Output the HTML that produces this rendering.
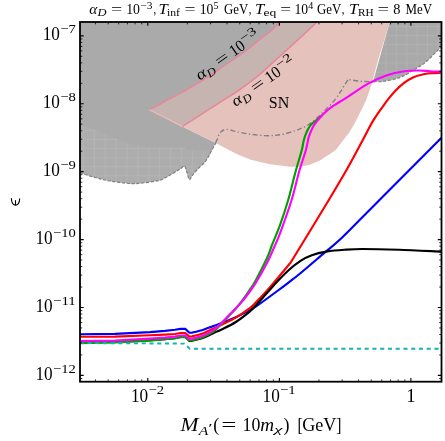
<!DOCTYPE html>
<html><head><meta charset="utf-8"><style>html,body{margin:0;padding:0;background:#fff;}body{width:445px;height:441px;overflow:hidden;position:relative;font-family:"Liberation Serif",serif;}</style></head><body>
<svg width="445" height="441" viewBox="0 0 445 441" style="position:absolute;left:0;top:0;will-change:transform">
<rect width="445" height="441" fill="#fff"/>
<defs><pattern id="g1" x="82.9" y="130.1" width="10.9" height="9.05" patternUnits="userSpaceOnUse"><rect width="10.9" height="9.05" fill="#adadad"/><path d="M0,0.4 H10.9 M0.4,0 V9.05" stroke="#b5b5b5" stroke-width="0.8"/></pattern><pattern id="g2" x="395.9" y="26.1" width="10.4" height="9.1" patternUnits="userSpaceOnUse"><rect width="10.4" height="9.1" fill="#a9a9a9"/><path d="M0,0.4 H10.4 M0.4,0 V9.1" stroke="#b3b3b3" stroke-width="0.8"/></pattern><clipPath id="cp"><rect x="80.0" y="22.0" width="361.5" height="359.7"/></clipPath></defs>
<g clip-path="url(#cp)">
<path d="M80.0,22.0 L280.4,22.0 L280.4,22.0 L272.2,29.6 L265.0,35.4 L258.6,40.4 L251.3,46.3 L245.0,51.3 L235.7,57.8 L224.9,65.2 L213.0,73.5 L204.5,79.3 L195.0,84.9 L180.0,93.4 L167.7,99.9 L158.0,105.2 L149.3,109.8 L182.3,126.4 L200.0,135.2 L216.3,143.3 L215.8,142.9 L211.7,150.4 L208.5,156.5 L204.9,162.0 L200.0,166.8 L195.4,171.5 L192.0,176.0 L189.3,179.7 L187.0,172.5 L184.5,166.0 L180.4,168.8 L173.6,172.9 L166.8,177.0 L160.0,180.2 L151.3,181.8 L140.0,183.2 L129.4,183.5 L110.0,181.0 L95.0,177.5 L80.0,172.8Z" fill="#aaaaaa"/>
<path d="M80.0,125.4 L88.0,127.0 L95.0,130.0 L105.9,134.5 L116.7,139.0 L127.6,143.6 L140.0,146.4 L160.0,147.4 L185.2,147.4 L185.2,150.4 L211.7,150.4 L208.5,156.5 L204.9,162.0 L200.0,166.8 L195.4,171.5 L192.0,176.0 L189.3,179.7 L187.0,172.5 L184.5,166.0 L180.4,168.8 L173.6,172.9 L166.8,177.0 L160.0,180.2 L151.3,181.8 L140.0,183.2 L129.4,183.5 L110.0,181.0 L95.0,177.5 L80.0,172.8Z" fill="url(#g1)"/>
<path d="M389.7,22.0 L441.5,22.0 L441.5,46.7 L435.7,52.4 L428.0,60.0 L422.6,64.5 L413.5,70.0 L404.4,75.4 L395.4,79.0 L382.7,81.4 L373.6,81.8 L373.3,80.8Z" fill="url(#g2)"/>
<path d="M149.3,109.8 L158.0,105.2 L167.7,99.9 L180.0,93.4 L195.0,84.9 L204.5,79.3 L213.0,73.5 L224.9,65.2 L235.7,57.8 L245.0,51.3 L251.3,46.3 L258.6,40.4 L265.0,35.4 L272.2,29.6 L280.4,22.0 L317.1,22.0 L389.7,22.0 L384.0,41.0 L378.1,60.0 L371.8,83.6 L366.3,99.9 L359.1,114.4 L355.0,122.7 L349.4,132.2 L345.3,137.6 L335.8,150.0 L333.6,151.6 L320.0,160.6 L310.0,164.8 L300.0,166.8 L290.0,166.7 L280.0,165.6 L270.0,164.2 L264.4,163.1 L250.8,159.7 L237.2,154.3 L223.6,147.2 L216.3,143.3 L200.0,135.2 L182.3,126.4 L149.3,109.8Z" fill="#e6c2bd"/>
<path d="M149.3,109.8 L158.0,105.2 L167.7,99.9 L180.0,93.4 L195.0,84.9 L204.5,79.3 L213.0,73.5 L224.9,65.2 L235.7,57.8 L245.0,51.3 L251.3,46.3 L258.6,40.4 L265.0,35.4 L272.2,29.6 L280.4,22.0 L316.9,22.0 L316.9,22.0 L311.0,27.6 L305.0,33.2 L299.4,38.5 L285.8,50.8 L272.2,63.2 L262.7,72.0 L254.5,78.6 L240.0,89.5 L225.0,99.2 L211.3,107.9 L193.8,119.2 L182.3,126.4Z" fill="#c6b4b0"/>
<path d="M149.3,109.8 C150.8,109.0 154.9,106.8 158.0,105.2 C161.1,103.6 164.0,101.9 167.7,99.9 C171.4,97.9 175.4,95.9 180.0,93.4 C184.6,90.9 190.9,87.2 195.0,84.9 C199.1,82.6 201.5,81.2 204.5,79.3 C207.5,77.4 209.6,75.8 213.0,73.5 C216.4,71.2 221.1,67.8 224.9,65.2 C228.7,62.6 232.3,60.1 235.7,57.8 C239.0,55.5 242.4,53.2 245.0,51.3 C247.6,49.4 249.0,48.1 251.3,46.3 C253.6,44.5 256.3,42.2 258.6,40.4 C260.9,38.6 262.7,37.2 265.0,35.4 C267.3,33.6 269.6,31.8 272.2,29.6 C274.8,27.4 279.0,23.3 280.4,22.0" fill="none" stroke="#e6879b" stroke-width="1.6"/>
<path d="M182.3,126.4 C184.2,125.2 189.0,122.3 193.8,119.2 C198.6,116.1 206.1,111.2 211.3,107.9 C216.5,104.6 220.2,102.3 225.0,99.2 C229.8,96.1 235.1,92.9 240.0,89.5 C244.9,86.1 250.7,81.5 254.5,78.6 C258.3,75.7 259.8,74.6 262.7,72.0 C265.6,69.4 268.3,66.7 272.2,63.2 C276.1,59.7 281.3,54.9 285.8,50.8 C290.3,46.7 296.2,41.4 299.4,38.5 C302.6,35.6 303.1,35.0 305.0,33.2 C306.9,31.4 309.0,29.5 311.0,27.6 C313.0,25.7 315.9,22.9 316.9,22.0" fill="none" stroke="#e6879b" stroke-width="1.6"/>
<path d="M149.3,109.8 L182.3,126.4" fill="none" stroke="#f0b6b8" stroke-width="1.2"/>
<path d="M80.0,172.8 C82.5,173.6 90.0,176.1 95.0,177.5 C100.0,178.9 104.3,180.0 110.0,181.0 C115.7,182.0 124.4,183.1 129.4,183.5 C134.4,183.9 136.3,183.5 140.0,183.2 C143.7,182.9 148.0,182.3 151.3,181.8 C154.6,181.3 157.4,181.0 160.0,180.2 C162.6,179.4 164.5,178.2 166.8,177.0 C169.1,175.8 171.3,174.3 173.6,172.9 C175.9,171.5 178.6,170.0 180.4,168.8 C182.2,167.7 183.4,165.4 184.5,166.0 C185.6,166.6 186.2,170.2 187.0,172.5 C187.8,174.8 188.5,179.1 189.3,179.7 C190.1,180.3 191.0,177.4 192.0,176.0 C193.0,174.6 194.1,173.0 195.4,171.5 C196.7,170.0 198.4,168.4 200.0,166.8 C201.6,165.2 203.5,163.7 204.9,162.0 C206.3,160.3 207.4,158.4 208.5,156.5 C209.6,154.6 210.5,152.7 211.7,150.4 C212.9,148.1 215.1,144.2 215.8,142.9" fill="none" stroke="#808080" stroke-width="1.2" stroke-dasharray="3.2,1.6"/>
<path d="M215.6,142.9 C215.9,142.2 216.7,140.3 217.5,138.6 C218.3,136.9 218.7,134.0 220.2,132.5 C221.7,131.0 223.5,129.5 226.3,129.4 C229.1,129.3 233.1,131.0 237.2,131.8 C241.3,132.6 246.3,133.7 250.8,134.3 C255.3,134.9 260.4,135.4 264.4,135.6 C268.4,135.8 271.7,135.7 275.0,135.4 C278.3,135.1 280.7,134.8 284.0,134.0 C287.3,133.2 292.0,131.8 295.0,130.8 C298.0,129.8 299.5,129.1 301.8,128.1 C304.1,127.1 306.3,126.2 308.6,124.7 C310.9,123.2 313.1,121.2 315.4,119.3 C317.7,117.4 319.9,115.3 322.2,113.1 C324.5,110.9 326.7,108.7 329.0,106.3 C331.3,103.9 334.0,101.1 335.8,98.8 C337.6,96.5 338.5,94.8 339.9,92.7 C341.3,90.6 342.5,88.3 344.0,86.0 C345.5,83.7 347.8,79.8 348.9,78.8 C350.0,77.8 348.2,79.4 350.5,79.8 C352.8,80.2 358.6,81.1 362.7,81.4 C366.8,81.7 372.9,81.7 375.0,81.8" fill="none" stroke="#828282" stroke-width="1.4" stroke-dasharray="5,2.5,1.3,2.5"/>
<path d="M373.6,81.8 C375.1,81.7 379.1,81.9 382.7,81.4 C386.3,80.9 391.8,80.0 395.4,79.0 C399.0,78.0 401.4,76.9 404.4,75.4 C407.4,73.9 410.5,71.8 413.5,70.0 C416.5,68.2 420.2,66.2 422.6,64.5 C425.0,62.8 425.8,62.0 428.0,60.0 C430.2,58.0 433.4,54.6 435.7,52.4 C437.9,50.2 440.5,47.7 441.5,46.7" fill="none" stroke="#808080" stroke-width="1.2" stroke-dasharray="3.2,1.6"/>
<path d="M80.0,334.3 L115.0,333.9 L150.0,332.1 L165.0,330.9 L175.0,329.7 L180.4,328.9 L185.3,328.9 L189.4,332.7 L192.1,332.6 L192.1,332.6 C193.8,332.2 199.2,331.0 202.0,330.2 C204.8,329.4 206.4,328.6 208.6,327.8 C210.8,327.0 212.7,326.5 215.0,325.6 C217.3,324.8 218.7,324.1 222.2,322.7 C225.7,321.3 231.3,319.2 235.8,317.2 C240.3,315.1 246.2,312.1 249.4,310.4 C252.6,308.7 250.2,310.5 255.0,307.2 C259.8,303.9 272.2,294.8 278.0,290.5 C283.8,286.2 286.2,284.3 290.0,281.4 C293.8,278.5 294.9,277.8 300.7,273.0 C306.5,268.2 318.3,258.0 324.9,252.4 C331.4,246.8 333.7,245.4 340.0,239.5 C346.3,233.6 352.8,226.8 362.6,217.0 C372.4,207.2 385.8,193.7 398.9,180.5 C412.0,167.3 434.4,144.9 441.5,137.8" fill="none" stroke="#0000ff" stroke-width="2.15"/>
<path d="M80.0,336.7 L115.0,336.6 L150.0,335.2 L165.0,334.6 L175.0,334.0 L180.4,333.0 L185.3,333.0 L189.4,336.6 L192.1,336.4 L192.1,336.4 C193.8,336.0 199.2,334.7 202.0,333.8 C204.8,332.9 206.4,331.8 208.6,330.8 C210.8,329.8 212.7,328.9 215.0,327.8 C217.3,326.8 218.7,326.2 222.2,324.5 C225.7,322.8 231.3,320.4 235.8,317.7 C240.3,315.0 246.2,310.8 249.4,308.4 C252.6,306.0 252.1,306.1 255.0,303.2 C257.9,300.3 262.9,295.2 266.7,291.0 C270.5,286.8 274.2,282.3 278.0,277.8 C281.8,273.3 287.0,267.0 289.4,264.0 C291.8,261.0 288.7,265.7 292.2,260.0 C295.7,254.3 304.5,240.0 310.6,230.0 C316.7,220.0 322.8,210.0 328.8,200.0 C334.8,190.0 340.8,180.0 346.5,170.0 C352.2,160.0 358.3,148.3 362.8,140.0 C367.3,131.7 369.7,126.3 373.6,119.9 C377.5,113.5 382.7,106.6 386.3,101.7 C389.9,96.8 392.4,94.0 395.4,90.8 C398.4,87.6 401.4,85.0 404.4,82.7 C407.4,80.4 410.5,78.6 413.5,77.2 C416.5,75.8 419.9,75.2 422.6,74.5 C425.4,73.8 426.9,73.5 430.0,73.2 C433.1,72.9 439.6,72.9 441.5,72.8" fill="none" stroke="#ff0000" stroke-width="2.15"/>
<path d="M80.0,342.4 L115.0,342.0 L150.0,340.2 L165.0,339.1 L175.0,338.2 L180.4,337.0 L185.3,337.0 L189.4,341.0 L192.0,340.8 L192.0,340.8 C193.7,340.4 199.2,339.1 202.0,338.2 C204.8,337.3 206.4,336.6 208.6,335.6 C210.8,334.6 212.7,333.4 215.0,332.3 C217.3,331.2 218.7,330.9 222.2,329.2 C225.7,327.5 231.3,324.9 235.8,322.0 C240.3,319.1 246.2,314.4 249.4,311.8 C252.6,309.2 252.1,309.3 255.0,306.2 C257.9,303.1 262.9,297.5 266.7,293.3 C270.5,289.1 274.2,284.8 278.0,280.8 C281.8,276.8 285.6,272.9 289.4,269.5 C293.2,266.1 297.2,263.0 300.9,260.6 C304.6,258.2 307.6,256.7 311.8,255.2 C316.0,253.7 320.9,252.5 326.3,251.6 C331.7,250.7 338.3,250.1 344.4,249.7 C350.4,249.3 353.5,249.0 362.6,249.0 C371.7,249.0 385.8,249.3 398.9,249.7 C412.0,250.1 434.4,251.3 441.5,251.6" fill="none" stroke="#000" stroke-width="2.15"/>
<path d="M80.0,343.2 L115.0,342.4 L150.0,340.6 L165.0,339.3 L175.0,338.2 L180.4,337.1 L185.3,337.1 L189.4,340.5 L192.0,340.3 L192.0,340.3 C193.7,339.8 199.2,338.5 202.0,337.5 C204.8,336.5 206.4,335.6 208.6,334.4 C210.8,333.2 212.7,332.3 215.0,330.4 C217.3,328.5 219.9,325.4 222.2,323.0 C224.5,320.6 226.7,318.2 229.0,315.8 C231.3,313.4 233.5,311.1 235.8,308.5 C238.1,305.9 240.3,303.0 242.6,300.0 C244.9,297.0 247.3,293.6 249.4,290.4 C251.5,287.2 252.5,286.3 255.4,281.0 C258.3,275.7 263.9,264.8 266.7,258.8 C269.5,252.8 269.8,250.6 272.0,245.0 C274.2,239.4 277.3,232.7 280.0,225.2 C282.7,217.7 285.6,208.9 288.2,200.0 C290.8,191.1 293.2,180.3 295.5,172.0 C297.8,163.7 300.4,155.3 301.8,150.0 C303.2,144.7 303.0,143.3 303.8,140.3 C304.6,137.3 305.6,134.6 306.6,132.2 C307.6,129.8 308.8,127.7 310.0,126.0 C311.2,124.3 312.8,123.1 314.0,122.0 C315.2,120.9 316.0,120.4 317.4,119.3 C318.8,118.2 321.4,115.9 322.2,115.2" fill="none" stroke="#00a000" stroke-width="2.15"/>
<path d="M80.0,341.0 L115.0,340.6 L150.0,338.6 L165.0,337.6 L175.0,336.6 L180.4,335.5 L185.3,335.5 L189.4,338.9 L192.0,338.7 L192.0,338.7 C193.7,338.2 199.2,337.0 202.0,336.0 C204.8,335.0 206.4,334.0 208.6,332.8 C210.8,331.6 212.7,330.8 215.0,329.0 C217.3,327.2 219.9,324.5 222.2,322.2 C224.5,319.9 226.7,317.5 229.0,315.2 C231.3,312.9 233.5,310.8 235.8,308.4 C238.1,306.0 240.3,303.6 242.6,300.9 C244.9,298.2 247.3,294.9 249.4,292.0 C251.5,289.1 252.5,288.2 255.4,283.5 C258.3,278.8 263.6,269.4 266.7,263.5 C269.8,257.6 271.6,253.0 273.8,248.0 C276.0,243.0 277.0,241.3 280.0,233.3 C283.0,225.3 288.4,210.2 291.6,200.0 C294.8,189.8 296.6,180.3 299.0,172.0 C301.4,163.7 304.3,155.7 305.9,150.0 C307.5,144.3 307.5,141.4 308.6,137.6 C309.7,133.8 311.3,130.1 312.7,127.4 C314.1,124.7 315.2,123.3 316.8,121.3 C318.4,119.3 320.2,117.2 322.2,115.2 C324.2,113.2 326.7,110.8 329.0,109.0 C331.3,107.2 333.5,105.8 335.8,104.3 C338.1,102.8 340.2,101.7 342.6,100.2 C345.0,98.7 345.8,98.2 350.0,95.4 C354.2,92.6 362.1,86.9 368.1,83.6 C374.2,80.3 380.2,77.5 386.3,75.4 C392.4,73.3 399.0,72.0 404.4,71.2 C409.8,70.4 414.6,70.5 418.9,70.5 C423.2,70.5 426.2,71.0 430.0,71.2 C433.8,71.4 439.6,71.5 441.5,71.6" fill="none" stroke="#ff00ff" stroke-width="2.15"/>
<path d="M80,343.1 L184.4,343.6 L189.8,348.8 L441.5,348.8" fill="none" stroke="#12b4b8" stroke-width="1.9" stroke-dasharray="4.1,3.66" stroke-dashoffset="0.4"/>
</g>
<path d="M95.45,381.7 v-2.3 M95.45,22.0 v2.3" stroke="#000" stroke-width="0.8"/>
<path d="M108.20,381.7 v-2.3 M108.20,22.0 v2.3" stroke="#000" stroke-width="0.8"/>
<path d="M118.62,381.7 v-2.3 M118.62,22.0 v2.3" stroke="#000" stroke-width="0.8"/>
<path d="M127.42,381.7 v-2.3 M127.42,22.0 v2.3" stroke="#000" stroke-width="0.8"/>
<path d="M135.05,381.7 v-2.3 M135.05,22.0 v2.3" stroke="#000" stroke-width="0.8"/>
<path d="M141.78,381.7 v-2.3 M141.78,22.0 v2.3" stroke="#000" stroke-width="0.8"/>
<path d="M147.80,381.7 v-3.7 M147.80,22.0 v3.7" stroke="#000" stroke-width="1.1"/>
<path d="M187.40,381.7 v-2.3 M187.40,22.0 v2.3" stroke="#000" stroke-width="0.8"/>
<path d="M210.57,381.7 v-2.3 M210.57,22.0 v2.3" stroke="#000" stroke-width="0.8"/>
<path d="M227.00,381.7 v-2.3 M227.00,22.0 v2.3" stroke="#000" stroke-width="0.8"/>
<path d="M239.75,381.7 v-2.3 M239.75,22.0 v2.3" stroke="#000" stroke-width="0.8"/>
<path d="M250.17,381.7 v-2.3 M250.17,22.0 v2.3" stroke="#000" stroke-width="0.8"/>
<path d="M258.97,381.7 v-2.3 M258.97,22.0 v2.3" stroke="#000" stroke-width="0.8"/>
<path d="M266.60,381.7 v-2.3 M266.60,22.0 v2.3" stroke="#000" stroke-width="0.8"/>
<path d="M273.33,381.7 v-2.3 M273.33,22.0 v2.3" stroke="#000" stroke-width="0.8"/>
<path d="M279.35,381.7 v-3.7 M279.35,22.0 v3.7" stroke="#000" stroke-width="1.1"/>
<path d="M318.95,381.7 v-2.3 M318.95,22.0 v2.3" stroke="#000" stroke-width="0.8"/>
<path d="M342.12,381.7 v-2.3 M342.12,22.0 v2.3" stroke="#000" stroke-width="0.8"/>
<path d="M358.55,381.7 v-2.3 M358.55,22.0 v2.3" stroke="#000" stroke-width="0.8"/>
<path d="M371.30,381.7 v-2.3 M371.30,22.0 v2.3" stroke="#000" stroke-width="0.8"/>
<path d="M381.72,381.7 v-2.3 M381.72,22.0 v2.3" stroke="#000" stroke-width="0.8"/>
<path d="M390.52,381.7 v-2.3 M390.52,22.0 v2.3" stroke="#000" stroke-width="0.8"/>
<path d="M398.15,381.7 v-2.3 M398.15,22.0 v2.3" stroke="#000" stroke-width="0.8"/>
<path d="M404.88,381.7 v-2.3 M404.88,22.0 v2.3" stroke="#000" stroke-width="0.8"/>
<path d="M410.90,381.7 v-3.7 M410.90,22.0 v3.7" stroke="#000" stroke-width="1.1"/>
<path d="M80.0,378.51 h2.3 M441.5,378.51 h-2.3" stroke="#000" stroke-width="0.8"/>
<path d="M80.0,375.40 h3.7 M441.5,375.40 h-3.7" stroke="#000" stroke-width="1.1"/>
<path d="M80.0,354.96 h2.3 M441.5,354.96 h-2.3" stroke="#000" stroke-width="0.8"/>
<path d="M80.0,343.00 h2.3 M441.5,343.00 h-2.3" stroke="#000" stroke-width="0.8"/>
<path d="M80.0,334.51 h2.3 M441.5,334.51 h-2.3" stroke="#000" stroke-width="0.8"/>
<path d="M80.0,327.93 h2.3 M441.5,327.93 h-2.3" stroke="#000" stroke-width="0.8"/>
<path d="M80.0,322.56 h2.3 M441.5,322.56 h-2.3" stroke="#000" stroke-width="0.8"/>
<path d="M80.0,318.01 h2.3 M441.5,318.01 h-2.3" stroke="#000" stroke-width="0.8"/>
<path d="M80.0,314.07 h2.3 M441.5,314.07 h-2.3" stroke="#000" stroke-width="0.8"/>
<path d="M80.0,310.60 h2.3 M441.5,310.60 h-2.3" stroke="#000" stroke-width="0.8"/>
<path d="M80.0,307.49 h3.7 M441.5,307.49 h-3.7" stroke="#000" stroke-width="1.1"/>
<path d="M80.0,287.05 h2.3 M441.5,287.05 h-2.3" stroke="#000" stroke-width="0.8"/>
<path d="M80.0,275.09 h2.3 M441.5,275.09 h-2.3" stroke="#000" stroke-width="0.8"/>
<path d="M80.0,266.60 h2.3 M441.5,266.60 h-2.3" stroke="#000" stroke-width="0.8"/>
<path d="M80.0,260.02 h2.3 M441.5,260.02 h-2.3" stroke="#000" stroke-width="0.8"/>
<path d="M80.0,254.65 h2.3 M441.5,254.65 h-2.3" stroke="#000" stroke-width="0.8"/>
<path d="M80.0,250.10 h2.3 M441.5,250.10 h-2.3" stroke="#000" stroke-width="0.8"/>
<path d="M80.0,246.16 h2.3 M441.5,246.16 h-2.3" stroke="#000" stroke-width="0.8"/>
<path d="M80.0,242.69 h2.3 M441.5,242.69 h-2.3" stroke="#000" stroke-width="0.8"/>
<path d="M80.0,239.58 h3.7 M441.5,239.58 h-3.7" stroke="#000" stroke-width="1.1"/>
<path d="M80.0,219.14 h2.3 M441.5,219.14 h-2.3" stroke="#000" stroke-width="0.8"/>
<path d="M80.0,207.18 h2.3 M441.5,207.18 h-2.3" stroke="#000" stroke-width="0.8"/>
<path d="M80.0,198.69 h2.3 M441.5,198.69 h-2.3" stroke="#000" stroke-width="0.8"/>
<path d="M80.0,192.11 h2.3 M441.5,192.11 h-2.3" stroke="#000" stroke-width="0.8"/>
<path d="M80.0,186.74 h2.3 M441.5,186.74 h-2.3" stroke="#000" stroke-width="0.8"/>
<path d="M80.0,182.19 h2.3 M441.5,182.19 h-2.3" stroke="#000" stroke-width="0.8"/>
<path d="M80.0,178.25 h2.3 M441.5,178.25 h-2.3" stroke="#000" stroke-width="0.8"/>
<path d="M80.0,174.78 h2.3 M441.5,174.78 h-2.3" stroke="#000" stroke-width="0.8"/>
<path d="M80.0,171.67 h3.7 M441.5,171.67 h-3.7" stroke="#000" stroke-width="1.1"/>
<path d="M80.0,151.23 h2.3 M441.5,151.23 h-2.3" stroke="#000" stroke-width="0.8"/>
<path d="M80.0,139.27 h2.3 M441.5,139.27 h-2.3" stroke="#000" stroke-width="0.8"/>
<path d="M80.0,130.78 h2.3 M441.5,130.78 h-2.3" stroke="#000" stroke-width="0.8"/>
<path d="M80.0,124.20 h2.3 M441.5,124.20 h-2.3" stroke="#000" stroke-width="0.8"/>
<path d="M80.0,118.83 h2.3 M441.5,118.83 h-2.3" stroke="#000" stroke-width="0.8"/>
<path d="M80.0,114.28 h2.3 M441.5,114.28 h-2.3" stroke="#000" stroke-width="0.8"/>
<path d="M80.0,110.34 h2.3 M441.5,110.34 h-2.3" stroke="#000" stroke-width="0.8"/>
<path d="M80.0,106.87 h2.3 M441.5,106.87 h-2.3" stroke="#000" stroke-width="0.8"/>
<path d="M80.0,103.76 h3.7 M441.5,103.76 h-3.7" stroke="#000" stroke-width="1.1"/>
<path d="M80.0,83.32 h2.3 M441.5,83.32 h-2.3" stroke="#000" stroke-width="0.8"/>
<path d="M80.0,71.36 h2.3 M441.5,71.36 h-2.3" stroke="#000" stroke-width="0.8"/>
<path d="M80.0,62.87 h2.3 M441.5,62.87 h-2.3" stroke="#000" stroke-width="0.8"/>
<path d="M80.0,56.29 h2.3 M441.5,56.29 h-2.3" stroke="#000" stroke-width="0.8"/>
<path d="M80.0,50.92 h2.3 M441.5,50.92 h-2.3" stroke="#000" stroke-width="0.8"/>
<path d="M80.0,46.37 h2.3 M441.5,46.37 h-2.3" stroke="#000" stroke-width="0.8"/>
<path d="M80.0,42.43 h2.3 M441.5,42.43 h-2.3" stroke="#000" stroke-width="0.8"/>
<path d="M80.0,38.96 h2.3 M441.5,38.96 h-2.3" stroke="#000" stroke-width="0.8"/>
<path d="M80.0,35.85 h3.7 M441.5,35.85 h-3.7" stroke="#000" stroke-width="1.1"/>
<rect x="80.0" y="22.0" width="361.5" height="359.7" fill="none" stroke="#000" stroke-width="1.8"/>
<text x="35.5" y="379.8" font-family="Liberation Serif, serif" font-size="18.8" textLength="17.2" lengthAdjust="spacingAndGlyphs" fill="#000">10</text><text x="53.0" y="372.5" font-family="Liberation Serif, serif" font-size="12.8" textLength="22.8" lengthAdjust="spacingAndGlyphs" fill="#000">−12</text>
<text x="35.5" y="311.9" font-family="Liberation Serif, serif" font-size="18.8" textLength="17.2" lengthAdjust="spacingAndGlyphs" fill="#000">10</text><text x="53.0" y="304.6" font-family="Liberation Serif, serif" font-size="12.8" textLength="22.8" lengthAdjust="spacingAndGlyphs" fill="#000">−11</text>
<text x="35.5" y="244.0" font-family="Liberation Serif, serif" font-size="18.8" textLength="17.2" lengthAdjust="spacingAndGlyphs" fill="#000">10</text><text x="53.0" y="236.7" font-family="Liberation Serif, serif" font-size="12.8" textLength="22.8" lengthAdjust="spacingAndGlyphs" fill="#000">−10</text>
<text x="42.7" y="176.1" font-family="Liberation Serif, serif" font-size="18.8" textLength="17.2" lengthAdjust="spacingAndGlyphs" fill="#000">10</text><text x="60.2" y="168.8" font-family="Liberation Serif, serif" font-size="12.8" textLength="15.6" lengthAdjust="spacingAndGlyphs" fill="#000">−9</text>
<text x="42.7" y="108.2" font-family="Liberation Serif, serif" font-size="18.8" textLength="17.2" lengthAdjust="spacingAndGlyphs" fill="#000">10</text><text x="60.2" y="100.9" font-family="Liberation Serif, serif" font-size="12.8" textLength="15.6" lengthAdjust="spacingAndGlyphs" fill="#000">−8</text>
<text x="42.7" y="40.2" font-family="Liberation Serif, serif" font-size="18.8" textLength="17.2" lengthAdjust="spacingAndGlyphs" fill="#000">10</text><text x="60.2" y="33.0" font-family="Liberation Serif, serif" font-size="12.8" textLength="15.6" lengthAdjust="spacingAndGlyphs" fill="#000">−7</text>
<text x="131.0" y="401.5" font-family="Liberation Serif, serif" font-size="18.8" textLength="17.2" lengthAdjust="spacingAndGlyphs" fill="#000">10</text><text x="148.5" y="394.2" font-family="Liberation Serif, serif" font-size="12.8" textLength="15.6" lengthAdjust="spacingAndGlyphs" fill="#000">−2</text>
<text x="262.6" y="401.5" font-family="Liberation Serif, serif" font-size="18.8" textLength="17.2" lengthAdjust="spacingAndGlyphs" fill="#000">10</text><text x="280.1" y="394.2" font-family="Liberation Serif, serif" font-size="12.8" textLength="15.6" lengthAdjust="spacingAndGlyphs" fill="#000">−1</text>
<text x="410.9" y="401.5" font-family="Liberation Serif, serif" font-size="18.8" text-anchor="middle" fill="#000">1</text>
<text x="89.2" y="13.5" font-family="Liberation Serif, serif" font-size="14.2" font-style="italic" textLength="8.0" lengthAdjust="spacingAndGlyphs" fill="#000">α</text>
<text x="97.6" y="15.7" font-family="Liberation Serif, serif" font-size="10" font-style="italic" textLength="9.0" lengthAdjust="spacingAndGlyphs" fill="#000">D</text>
<text x="111.0" y="13.5" font-family="Liberation Serif, serif" font-size="14.2" textLength="11.2" lengthAdjust="spacingAndGlyphs" fill="#000">=</text>
<text x="126.2" y="13.5" font-family="Liberation Serif, serif" font-size="14.2" textLength="13.8" lengthAdjust="spacingAndGlyphs" fill="#000">10</text>
<text x="140.4" y="8.5" font-family="Liberation Serif, serif" font-size="10" textLength="12.2" lengthAdjust="spacingAndGlyphs" fill="#000">−3</text>
<text x="153.6" y="13.5" font-family="Liberation Serif, serif" font-size="14.2" textLength="2.6" lengthAdjust="spacingAndGlyphs" fill="#000">,</text>
<text x="158.4" y="13.5" font-family="Liberation Serif, serif" font-size="14.2" font-style="italic" textLength="9.2" lengthAdjust="spacingAndGlyphs" fill="#000">T</text>
<text x="167.0" y="15.7" font-family="Liberation Serif, serif" font-size="10" textLength="13.0" lengthAdjust="spacingAndGlyphs" fill="#000">inf</text>
<text x="184.4" y="13.5" font-family="Liberation Serif, serif" font-size="14.2" textLength="11.0" lengthAdjust="spacingAndGlyphs" fill="#000">=</text>
<text x="199.8" y="13.5" font-family="Liberation Serif, serif" font-size="14.2" textLength="13.6" lengthAdjust="spacingAndGlyphs" fill="#000">10</text>
<text x="213.6" y="8.5" font-family="Liberation Serif, serif" font-size="10" textLength="5.0" lengthAdjust="spacingAndGlyphs" fill="#000">5</text>
<text x="224.0" y="13.5" font-family="Liberation Serif, serif" font-size="14.2" textLength="24.2" lengthAdjust="spacingAndGlyphs" fill="#000">GeV</text>
<text x="248.8" y="13.5" font-family="Liberation Serif, serif" font-size="14.2" textLength="2.6" lengthAdjust="spacingAndGlyphs" fill="#000">,</text>
<text x="255.0" y="13.5" font-family="Liberation Serif, serif" font-size="14.2" font-style="italic" textLength="9.2" lengthAdjust="spacingAndGlyphs" fill="#000">T</text>
<text x="263.6" y="15.7" font-family="Liberation Serif, serif" font-size="10" textLength="12.8" lengthAdjust="spacingAndGlyphs" fill="#000">eq</text>
<text x="280.2" y="13.5" font-family="Liberation Serif, serif" font-size="14.2" textLength="10.8" lengthAdjust="spacingAndGlyphs" fill="#000">=</text>
<text x="294.4" y="13.5" font-family="Liberation Serif, serif" font-size="14.2" textLength="13.6" lengthAdjust="spacingAndGlyphs" fill="#000">10</text>
<text x="308.2" y="8.5" font-family="Liberation Serif, serif" font-size="10" textLength="5.0" lengthAdjust="spacingAndGlyphs" fill="#000">4</text>
<text x="317.0" y="13.5" font-family="Liberation Serif, serif" font-size="14.2" textLength="24.2" lengthAdjust="spacingAndGlyphs" fill="#000">GeV</text>
<text x="341.8" y="13.5" font-family="Liberation Serif, serif" font-size="14.2" textLength="2.6" lengthAdjust="spacingAndGlyphs" fill="#000">,</text>
<text x="349.0" y="13.5" font-family="Liberation Serif, serif" font-size="14.2" font-style="italic" textLength="9.2" lengthAdjust="spacingAndGlyphs" fill="#000">T</text>
<text x="358.0" y="15.7" font-family="Liberation Serif, serif" font-size="10" textLength="15.6" lengthAdjust="spacingAndGlyphs" fill="#000">RH</text>
<text x="377.4" y="13.5" font-family="Liberation Serif, serif" font-size="14.2" textLength="11.6" lengthAdjust="spacingAndGlyphs" fill="#000">=</text>
<text x="393.2" y="13.5" font-family="Liberation Serif, serif" font-size="14.2" textLength="7.2" lengthAdjust="spacingAndGlyphs" fill="#000">8</text>
<text x="405.4" y="13.5" font-family="Liberation Serif, serif" font-size="14.2" textLength="26.6" lengthAdjust="spacingAndGlyphs" fill="#000">MeV</text>
<text x="180.6" y="430.6" font-family="Liberation Serif, serif" font-size="18.8" font-style="italic" textLength="18.0" lengthAdjust="spacingAndGlyphs" fill="#000">M</text>
<text x="198.8" y="434.8" font-family="Liberation Serif, serif" font-size="12.8" font-style="italic" textLength="9.6" lengthAdjust="spacingAndGlyphs" fill="#000">A</text>
<text x="208.6" y="432.1" font-family="Liberation Serif, serif" font-size="12.8" textLength="4.0" lengthAdjust="spacingAndGlyphs" fill="#000">′</text>
<text x="213.2" y="430.6" font-family="Liberation Serif, serif" font-size="18.8" textLength="6.0" lengthAdjust="spacingAndGlyphs" fill="#000">(</text>
<text x="221.2" y="430.6" font-family="Liberation Serif, serif" font-size="18.8" textLength="15.2" lengthAdjust="spacingAndGlyphs" fill="#000">=</text>
<text x="242.6" y="430.6" font-family="Liberation Serif, serif" font-size="18.8" textLength="17.8" lengthAdjust="spacingAndGlyphs" fill="#000">10</text>
<text x="260.2" y="430.6" font-family="Liberation Serif, serif" font-size="18.8" font-style="italic" textLength="13.8" lengthAdjust="spacingAndGlyphs" fill="#000">m</text>
<text x="274.2" y="433.2" font-family="Liberation Serif, serif" font-size="11.2" font-style="italic" textLength="8.2" lengthAdjust="spacingAndGlyphs" fill="#000">χ</text>
<text x="283.6" y="430.6" font-family="Liberation Serif, serif" font-size="18.8" textLength="6.0" lengthAdjust="spacingAndGlyphs" fill="#000">)</text>
<text x="297.4" y="430.6" font-family="Liberation Serif, serif" font-size="18.8" textLength="5.2" lengthAdjust="spacingAndGlyphs" fill="#000">[</text>
<text x="302.2" y="430.6" font-family="Liberation Serif, serif" font-size="18.8" textLength="34.2" lengthAdjust="spacingAndGlyphs" fill="#000">GeV</text>
<text x="336.2" y="430.6" font-family="Liberation Serif, serif" font-size="18.8" textLength="5.2" lengthAdjust="spacingAndGlyphs" fill="#000">]</text>
<path d="M11.4,198.6 C11.2,207.4 19.8,207.4 19.6,198.8 M15.5,205.0 V200.6" fill="none" stroke="#000" stroke-width="1.1" stroke-linecap="round"/>
<g transform="translate(199.3,81.0) rotate(-35)"><text x="0.5" y="0.0" font-family="Liberation Serif, serif" font-size="15.5" font-style="italic" textLength="9.7" lengthAdjust="spacingAndGlyphs" fill="#000">α</text><text x="10.3" y="3.4" font-family="Liberation Serif, serif" font-size="11.5" font-style="italic" textLength="9.3" lengthAdjust="spacingAndGlyphs" fill="#000">D</text><text x="24.5" y="0.0" font-family="Liberation Serif, serif" font-size="16.5" textLength="13.7" lengthAdjust="spacingAndGlyphs" fill="#000">=</text><text x="42.0" y="0.0" font-family="Liberation Serif, serif" font-size="16.5" textLength="15.6" lengthAdjust="spacingAndGlyphs" fill="#000">10</text><text x="57.8" y="-6.6" font-family="Liberation Serif, serif" font-size="11.8" textLength="17.4" lengthAdjust="spacingAndGlyphs" fill="#000">−3</text></g>
<g transform="translate(235.0,107.3) rotate(-35)"><text x="0.5" y="0.0" font-family="Liberation Serif, serif" font-size="15.5" font-style="italic" textLength="9.7" lengthAdjust="spacingAndGlyphs" fill="#000">α</text><text x="10.3" y="3.4" font-family="Liberation Serif, serif" font-size="11.5" font-style="italic" textLength="9.3" lengthAdjust="spacingAndGlyphs" fill="#000">D</text><text x="24.5" y="0.0" font-family="Liberation Serif, serif" font-size="16.5" textLength="13.7" lengthAdjust="spacingAndGlyphs" fill="#000">=</text><text x="42.0" y="0.0" font-family="Liberation Serif, serif" font-size="16.5" textLength="15.6" lengthAdjust="spacingAndGlyphs" fill="#000">10</text><text x="57.8" y="-6.6" font-family="Liberation Serif, serif" font-size="11.8" textLength="17.4" lengthAdjust="spacingAndGlyphs" fill="#000">−2</text></g>
<text x="268.8" y="107.6" font-family="Liberation Serif, serif" font-size="16" fill="#000">SN</text>
</svg>
</body></html>
